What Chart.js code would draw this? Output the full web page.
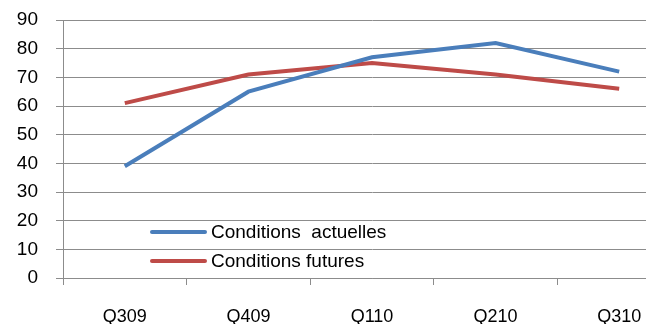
<!DOCTYPE html>
<html>
<head>
<meta charset="utf-8">
<script src="https://cdn.jsdelivr.net/npm/chart.js@4/dist/chart.umd.min.js"></script>
<style>
    html, body { margin: 0; padding: 0; background: #fff; overflow: hidden; }
    #wrap { width: 646px; height: 324px; overflow: hidden; }
</style>
</head>
<body>
<div id="wrap"><canvas id="condChart" width="690" height="324"></canvas></div>
<script>
// chart data
const quarters = ['Q309', 'Q409', 'Q110', 'Q210', 'Q310'];
const actuelles = [39, 65, 77, 82, 72];
const futures = [61, 71, 75, 71, 66];
const yTicks = [0, 10, 20, 30, 40, 50, 60, 70, 80, 90];

const gridColor = '#8c8c8c';

// legend drawn inside the plot area, like the original
const insideLegend = {
    id: 'insideLegend',
    afterDraw(chart) {
        const ctx = chart.ctx;
        const rows = [232, 261];
        ctx.save();
        chart.data.datasets.forEach((ds, i) => {
            ctx.strokeStyle = ds.borderColor;
            ctx.lineWidth = 4;
            ctx.lineCap = 'round';
            ctx.beginPath();
            ctx.moveTo(152, rows[i]);
            ctx.lineTo(205, rows[i]);
            ctx.stroke();
            ctx.fillStyle = '#000';
            ctx.font = '19px "Liberation Sans", Arial, sans-serif';
            ctx.textBaseline = 'middle';
            ctx.fillText(ds.label, 211, rows[i] + 1);
        });
        ctx.restore();
    }
};

var ctx_cond = document.getElementById('condChart').getContext('2d');

new Chart(ctx_cond, {
    type: 'line',
    data: {
        labels: quarters,
        datasets: [{
            label: 'Conditions  actuelles',
            data: actuelles,
            borderColor: '#4a7ebb',
            borderWidth: 4,
            pointRadius: 0,
            tension: 0
        }, {
            label: 'Conditions futures',
            data: futures,
            borderColor: '#be4b48',
            borderWidth: 4,
            pointRadius: 0,
            tension: 0
        }]
    },
    options: {
        responsive: false,
        animation: false,
        layout: {
            padding: { top: 20, right: 9, left: 0, bottom: 0 }
        },
        scales: {
            y: {
                min: 0,
                max: 90,
                afterBuildTicks: (axis) => { axis.ticks = yTicks.map(v => ({ value: v })); },
                afterFit: (axis) => {
                    axis.width = 63;
                    axis.paddingTop = 0;
                    axis.paddingBottom = 0;
                },
                border: { color: gridColor, width: 1 },
                grid: { color: gridColor, tickLength: 7 },
                ticks: {
                    padding: 18,
                    color: '#000',
                    font: { family: '"Liberation Sans", Arial, sans-serif', size: 19 }
                }
            },
            x: {
                offset: true,
                afterFit: (axis) => {
                    axis.height = 46;
                    axis.paddingLeft = 0;
                    axis.paddingRight = 0;
                },
                border: { color: gridColor, width: 1 },
                grid: { offset: true, drawOnChartArea: false, color: gridColor, tickLength: 7 },
                ticks: {
                    padding: 21,
                    color: '#000',
                    maxRotation: 0,
                    font: { family: '"Liberation Sans", Arial, sans-serif', size: 18 }
                }
            }
        },
        plugins: {
            legend: { display: false },
            tooltip: { enabled: false }
        }
    },
    plugins: [insideLegend]
});
</script>
</body>
</html>
